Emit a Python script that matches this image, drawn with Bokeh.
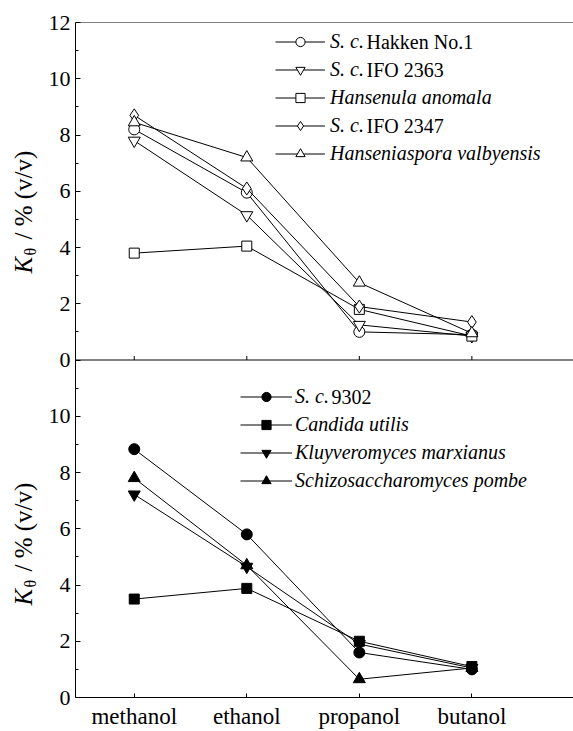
import math
from bokeh.plotting import figure
from bokeh.layouts import row
from bokeh.models import Range1d, FixedTicker, Legend, LegendItem, Label, Span
from bokeh.embed import file_html
from bokeh.resources import INLINE

# ---------------- data ----------------
alcohols = ["methanol", "ethanol", "propanol", "butanol"]

# upper panel
top_names_italic = ["S. c.", "S. c.", "Hansenula anomala", "S. c.", "Hanseniaspora valbyensis"]
top_names_upright = ["Hakken No.1", "IFO 2363", "", "IFO 2347", ""]
sc_hakken_no1 = [8.2, 5.95, 1.0, 0.9]
sc_ifo_2363 = [7.8, 5.15, 1.25, 0.85]
hansenula_anomala = [3.8, 4.05, 1.8, 0.85]
sc_ifo_2347 = [8.7, 6.1, 1.9, 1.35]
hanseniaspora_valbyensis = [8.45, 7.2, 2.75, 0.95]

# lower panel
bottom_names_italic = ["S. c.", "Candida utilis", "Kluyveromyces marxianus", "Schizosaccharomyces pombe"]
bottom_names_upright = ["9302", "", "", ""]
sc_9302 = [8.83, 5.8, 1.6, 1.0]
candida_utilis = [3.5, 3.88, 2.0, 1.1]
kluyveromyces_marxianus = [7.22, 4.65, 1.9, 1.05]
schizosaccharomyces_pombe = [7.8, 4.7, 0.65, 1.05]

top_tick_values = [0, 2, 4, 6, 8, 10, 12]
bottom_tick_values = [0, 2, 4, 6, 8, 10]
panel_max = 12

# ---------------- layout constants ----------------
FONT = "Liberation Serif"
TOTAL_W, TOTAL_H = 573, 731
LABEL_W = 45
FRAME_TOP, FRAME_BOTTOM_BORDER = 22, 32
FRAME_BOTTOM = TOTAL_H - FRAME_BOTTOM_BORDER  # pixel row of the frame bottom
xs = list(range(len(alcohols)))

p = figure(width=TOTAL_W - LABEL_W, height=TOTAL_H, output_backend="svg", toolbar_location=None,
           x_range=Range1d(-0.522, 3.903), y_range=Range1d(0, 2 * panel_max),
           min_border_left=73 - LABEL_W, min_border_right=0,
           min_border_top=FRAME_TOP, min_border_bottom=FRAME_BOTTOM_BORDER)
p.extra_y_ranges = {"top": Range1d(-panel_max, panel_max)}
p.outline_line_color = None
p.grid.visible = False

# y axis: lower panel ticks as-is, upper panel ticks shifted to the upper half
yticks = list(bottom_tick_values) + [t + panel_max for t in top_tick_values]
yax = p.yaxis[0]
yax.ticker = FixedTicker(ticks=yticks, minor_ticks=list(range(1, 2 * panel_max, 2)))
yax.major_label_overrides = {t + panel_max: str(t) for t in top_tick_values}
xax = p.xaxis[0]
xax.ticker = FixedTicker(ticks=xs)
xax.major_label_overrides = {i: name for i, name in enumerate(alcohols)}

for ax in (xax, yax):
    ax.axis_line_color = "black"
    ax.axis_line_width = 1
    ax.major_tick_line_color = "black"
    ax.minor_tick_line_color = "black"
    ax.major_tick_out = 0
    ax.minor_tick_out = 0
    ax.major_label_text_font = FONT
    ax.major_label_text_color = "black"
yax.major_label_text_font_size = "22px"
xax.major_label_text_font_size = "23px"
yax.major_tick_in = 5
yax.minor_tick_in = 3
yax.major_label_standoff = 5
xax.major_tick_in = 4
xax.major_label_standoff = 6

# frame lines: divider and top border
p.add_layout(Span(location=panel_max, dimension="width", line_color="black", line_width=1))
p.add_layout(Span(location=2 * panel_max, dimension="width", line_color="black", line_width=1))
# x ticks on the divider
p.ray(x=xs, y=[0] * len(xs), length=4, length_units="screen", angle=math.pi / 2,
      y_range_name="top", line_color="black", line_width=1)

LH = 23
SP = 5
LEG_FONT = "20px"
ITALIC_PREFIX_W = 36  # width of "S. c. " in 20px serif italic


def add_panel(series, names_italic, names_upright, range_name, fill,
              glyph_left_px, first_row_px, glyph_w, standoff):
    """glyph_left_px / first_row_px: picture pixels of the legend's glyph start and first row centre."""
    n = len(series)
    H = n * LH + (n - 1) * SP
    leg_x = glyph_left_px - 73
    leg_y = FRAME_BOTTOM - (first_row_px - LH / 2 + H)
    items = []
    for (vals, (marker, size)), name in zip(series, names_italic):
        kw = {} if range_name is None else {"y_range_name": range_name}
        lr = p.line(xs, vals, line_color="black", line_width=1, **kw)
        sr = p.scatter(xs, vals, marker=marker, size=size, fill_color=fill,
                       line_color="black", line_width=1, **kw)
        items.append(LegendItem(label=name, renderers=[lr, sr]))
    leg = Legend(items=items, location=(leg_x, leg_y), glyph_width=glyph_w, glyph_height=LH,
                 label_height=LH, spacing=SP, label_standoff=standoff, padding=0, margin=0,
                 border_line_color=None, background_fill_alpha=0,
                 label_text_font=FONT, label_text_font_size=LEG_FONT,
                 label_text_font_style="italic", label_text_color="black")
    p.add_layout(leg)
    for i, up in enumerate(names_upright):
        if up:
            p.add_layout(Label(x=leg_x + glyph_w + standoff + ITALIC_PREFIX_W,
                               y=leg_y + H - (i * (LH + SP) + LH / 2),
                               x_units="screen", y_units="screen", text=up,
                               text_font=FONT, text_font_size=LEG_FONT, text_color="black",
                               text_align="left", text_baseline="middle"))


top_series = [
    (sc_hakken_no1, ("circle", 11)),
    (sc_ifo_2363, ("inverted_triangle", 12)),
    (hansenula_anomala, ("square", 10)),
    (sc_ifo_2347, ("diamond", 13)),
    (hanseniaspora_valbyensis, ("triangle", 12)),
]
bottom_series = [
    (sc_9302, ("circle", 11)),
    (candida_utilis, ("square", 10)),
    (kluyveromyces_marxianus, ("inverted_triangle", 12)),
    (schizosaccharomyces_pombe, ("triangle", 12)),
]

add_panel(top_series, top_names_italic, top_names_upright, "top", "white", 273, 43, 50, 5)
add_panel(bottom_series, bottom_names_italic, bottom_names_upright, None, "black", 238, 398, 52, 3)

# ---------------- y-axis titles (separate narrow strip, frame aligned with the plot) ----------------
lab = figure(width=LABEL_W, height=TOTAL_H, output_backend="svg", toolbar_location=None,
             x_range=Range1d(0, 1), y_range=Range1d(0, 1),
             x_axis_location=None, y_axis_location=None,
             min_border_left=0, min_border_right=0,
             min_border_top=FRAME_TOP, min_border_bottom=FRAME_BOTTOM_BORDER)
lab.outline_line_color = None
lab.grid.visible = False


def add_ylabel(k_bottom_px):
    cx = 23
    y0 = FRAME_BOTTOM - k_bottom_px
    lab.add_layout(Label(x=cx, y=y0, x_units="screen", y_units="screen", angle=math.pi / 2,
                         text="K", text_font=FONT, text_font_size="25px", text_font_style="italic",
                         text_color="black", text_align="left", text_baseline="middle"))
    lab.add_layout(Label(x=cx + 7, y=y0 + 18, x_units="screen", y_units="screen", angle=math.pi / 2,
                         text="θ", text_font=FONT, text_font_size="16px",
                         text_color="black", text_align="left", text_baseline="middle"))
    lab.add_layout(Label(x=cx, y=y0 + 34, x_units="screen", y_units="screen", angle=math.pi / 2,
                         text="/ % (v/v)", text_font=FONT, text_font_size="25px",
                         text_color="black", text_align="left", text_baseline="middle"))


add_ylabel(275)
add_ylabel(607)

layout = row(lab, p, spacing=0)
open("out.html", "w").write(file_html(layout, INLINE))
